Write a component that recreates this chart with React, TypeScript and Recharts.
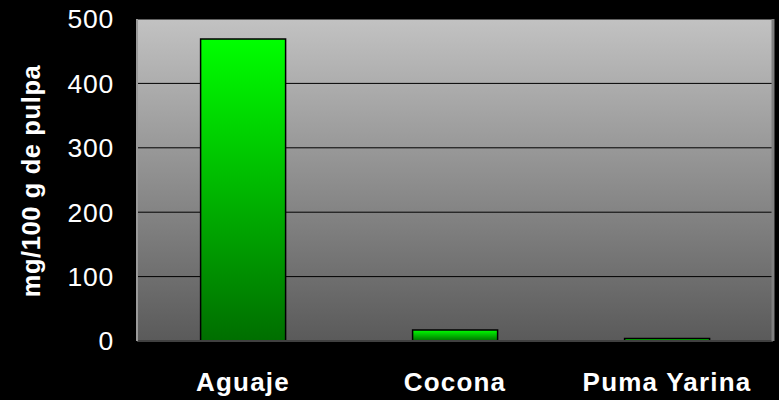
import React from 'react';
import { BarChart, Bar, XAxis, YAxis, CartesianGrid } from 'recharts';

const categories = ['Aguaje', 'Cocona', 'Puma Yarina'];
const values = [469, 17, 4];
const yTicks = [0, 100, 200, 300, 400, 500];
const yLabel = 'mg/100 g de pulpa';

const data = categories.map((name, i) => ({ name, value: values[i] }));

const FONT = '"Liberation Sans", Arial, sans-serif';

const YLabel = (props: any) => {
  const vb = props.viewBox || { x: 0, y: 0, width: 0, height: 0 };
  const cx = vb.x + 31;
  const cy = vb.y + vb.height / 2 + 1;
  return (
    <text
      x={cx}
      y={cy}
      transform={`rotate(-90, ${cx}, ${cy})`}
      textAnchor="middle"
      dominantBaseline="central"
      fill="#ffffff"
      fontFamily={FONT}
      fontWeight="bold"
      fontSize={25.5}
      letterSpacing={0.6}
    >
      {yLabel}
    </text>
  );
};

export default function App() {
  return (
    <div style={{ position: 'absolute', left: 0, top: 0, width: 779, height: 400, background: '#000' }}>
      <BarChart
        width={779}
        height={400}
        data={data}
        margin={{ top: 19, right: 3, bottom: 0, left: 0 }}
        barCategoryGap="30%"
      >
        <defs>
          <linearGradient id="plotBg" x1="0" y1="0" x2="0" y2="1">
            <stop offset="0%" stopColor="#c2c2c2" />
            <stop offset="100%" stopColor="#5a5a5a" />
          </linearGradient>
          <linearGradient id="barFill" x1="0" y1="0" x2="0" y2="1">
            <stop offset="0%" stopColor="#00ff00" />
            <stop offset="100%" stopColor="#006e00" />
          </linearGradient>
        </defs>
        <CartesianGrid
          yAxisId="l"
          vertical={false}
          stroke="#000"
          strokeOpacity={1}
          fill="url(#plotBg)"
          fillOpacity={1}
        />
        <XAxis
          dataKey="name"
          height={59}
          axisLine={{ stroke: '#404040', strokeWidth: 2 }}
          tickLine={false}
          tickSize={6}
          tickMargin={26}
          interval={0}
          tick={{ fill: '#ffffff', fontFamily: FONT, fontWeight: 'bold', fontSize: 26, letterSpacing: 1.2 }}
        />
        <YAxis
          yAxisId="l"
          width={137}
          domain={[0, 500]}
          ticks={yTicks}
          allowDataOverflow
          axisLine={{ stroke: '#9a9a9a', strokeWidth: 2 }}
          tickLine={false}
          tickSize={6}
          tickMargin={17}
          tick={{ fill: '#ffffff', fontFamily: FONT, fontSize: 26.5, letterSpacing: 0.8 }}
          label={<YLabel />}
        />
        <YAxis
          yAxisId="r"
          orientation="right"
          width={3}
          domain={[0, 500]}
          tick={false}
          tickLine={false}
          axisLine={{ stroke: '#808080', strokeWidth: 3 }}
        />
        <Bar
          yAxisId="l"
          dataKey="value"
          fill="url(#barFill)"
          stroke="#000"
          strokeWidth={1.5}
          isAnimationActive={false}
        />
      </BarChart>
    </div>
  );
}
